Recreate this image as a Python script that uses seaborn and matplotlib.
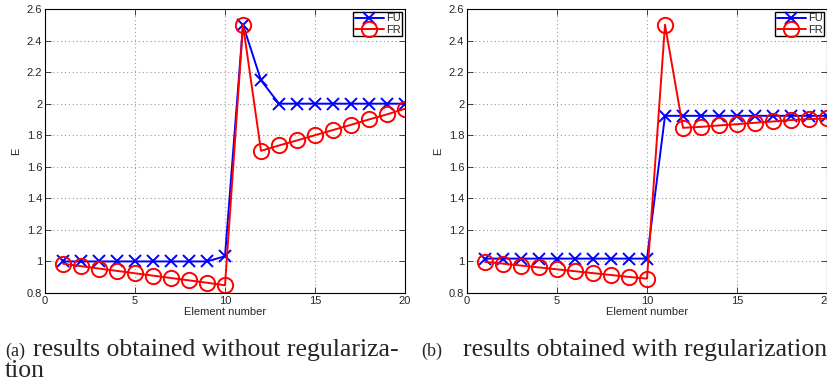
import matplotlib
matplotlib.use("Agg")
import matplotlib.pyplot as plt
import seaborn as sns
import numpy as np
import pandas as pd
from matplotlib.ticker import FuncFormatter, MultipleLocator

sns.set_style("ticks")
plt.rcParams['font.family'] = ['Liberation Sans', 'DejaVu Sans']

elements = list(range(1, 21))

# (a) without regularization
fu_a = [1.0, 1.0, 1.0, 1.0, 1.0, 1.0, 1.0, 1.0, 1.0, 1.033,
        2.5, 2.148, 2.0, 2.0, 2.0, 2.0, 2.0, 2.0, 2.0, 2.0]
fr_a = [0.986, 0.97, 0.955, 0.94, 0.925, 0.91, 0.895, 0.88, 0.865, 0.849,
        2.5, 1.701, 1.735, 1.767, 1.80, 1.833, 1.866, 1.90, 1.932, 1.968]

# (b) with regularization
fu_b = [1.018] * 10 + [1.923] * 10
fr_b = [0.997, 0.986, 0.974, 0.962, 0.95, 0.938, 0.926, 0.914, 0.902, 0.891,
        2.5, 1.847, 1.853, 1.862, 1.870, 1.879, 1.887, 1.896, 1.902, 1.906]

y_ticks = [0.8, 1.0, 1.2, 1.4, 1.6, 1.8, 2.0, 2.2, 2.4, 2.6]
x_ticks = [0, 5, 10, 15, 20]

captions = [("(a)", "results obtained without regulariza-", "tion"),
            ("(b)", "results obtained with regularization", None)]

W, H = 828, 387
fig = plt.figure(figsize=(W / 100, H / 100), dpi=100)

axes_px = [(45, 9, 360, 284), (467, 9, 360, 284)]
datasets = [(fu_a, fr_a), (fu_b, fr_b)]

for (lx, ty, w, h), (fu, fr) in zip(axes_px, datasets):
    ax = fig.add_axes([lx / W, 1 - (ty + h) / H, w / W, h / H])
    df = pd.DataFrame({"Element number": elements, "FU": fu, "FR": fr})
    sns.lineplot(data=df, x="Element number", y="FU", ax=ax, color="#0000ff",
                 marker="x", markersize=8, markeredgewidth=1.4,
                 markeredgecolor="#0000ff", linewidth=1.4, label="FU")
    sns.lineplot(data=df, x="Element number", y="FR", ax=ax, color="#ff0000",
                 marker="o", markersize=11, markeredgewidth=1.4,
                 markerfacecolor="none", markeredgecolor="#ff0000",
                 linewidth=1.4, label="FR")
    ax.set_xlim(0, 20)
    ax.set_ylim(0.8, 2.6)
    ax.set_xticks(x_ticks)
    ax.set_yticks(y_ticks)
    ax.yaxis.set_major_formatter(FuncFormatter(lambda v, p: "%g" % round(v, 2)))
    ax.grid(True, linestyle=(0, (1, 2.5)), color="#999999", linewidth=0.8)
    ax.tick_params(direction="in", top=True, right=True, length=4,
                   labelsize=8, width=0.6, pad=2)
    for s in ax.spines.values():
        s.set_visible(True)
        s.set_linewidth(0.8)
        s.set_color("black")
    ax.set_xlabel("Element number", fontsize=8, labelpad=1)
    ax.set_ylabel("E", fontsize=8, labelpad=4)
    leg = ax.legend(loc="upper right", fontsize=8, frameon=True, fancybox=False,
                    edgecolor="black", framealpha=1, borderaxespad=0.25,
                    handlelength=2.6, handletextpad=0.2, borderpad=0.15,
                    labelspacing=0.1)
    leg.get_frame().set_linewidth(1.0)

serif = ['Liberation Serif', 'DejaVu Serif']
# caption (a)
fig.text(5 / W, 1 - 356 / H, captions[0][0], fontsize=13, family=serif, va="baseline")
fig.text(33 / W, 1 - 356 / H, captions[0][1], fontsize=18.5, family=serif, va="baseline")
fig.text(5 / W, 1 - 377 / H, captions[0][2], fontsize=18.5, family=serif, va="baseline")
# caption (b)
fig.text(421 / W, 1 - 356 / H, captions[1][0], fontsize=13, family=serif, va="baseline")
fig.text(463 / W, 1 - 356 / H, captions[1][1], fontsize=18.5, family=serif, va="baseline")

fig.savefig("out.png", dpi=100)
